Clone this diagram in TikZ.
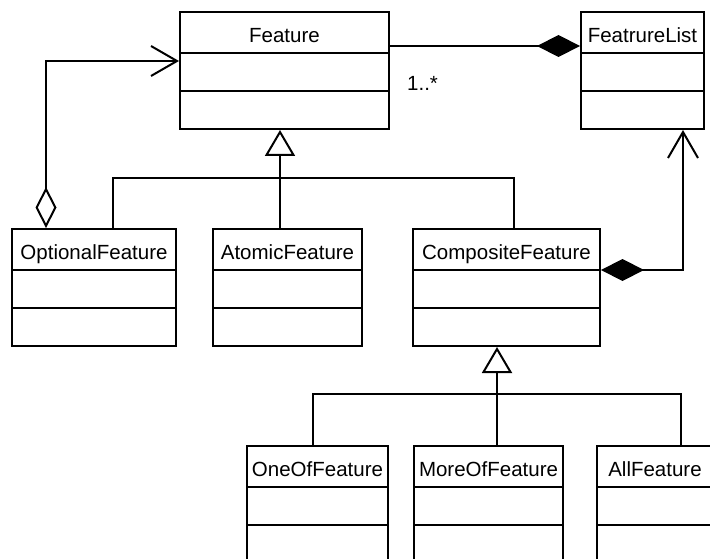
\documentclass[tikz,border=0pt]{standalone}
\usepackage{fontspec}
\setmainfont{Liberation Sans}
\usetikzlibrary{arrows.meta,calc}
\newcommand\UMLbox[5]{%
  \node[cbox, minimum width=#4pt, anchor=north] (#1) at (#2,#3) {};
  \node[cname] (#1-t) at ($(#1.north)+(0,31.5)$) {#5};
  \draw[conn] ($(#1.north west)+(0,42)$) -- ($(#1.north east)+(0,42)$);
  \draw[conn] ($(#1.north west)+(0,80)$) -- ($(#1.north east)+(0,80)$);
}
\begin{document}
\begin{tikzpicture}[x=1pt,y=-1pt,
  every node/.style={font=\fontsize{20.5}{24}\selectfont},
  cbox/.style={draw, line width=2pt, minimum height=117pt, inner sep=0pt},
  cname/.style={anchor=base, inner sep=0pt},
  conn/.style={line width=2pt},
  gentip/.style={-{Triangle[open,length=26pt,width=30pt]}},
  comptip/.tip={Diamond[length=43pt,width=22pt]},
  aggtip/.tip={Diamond[open,length=41pt,width=21pt]},
  navtip/.tip={Straight Barb[length=26pt,width=30pt]}]
\useasboundingbox (0,0) rectangle (710,559);
\clip (0,0) rectangle (710,559);
\fill[white] (0,0) rectangle (710,559);

\UMLbox{feat}{284.5}{11}{209}{Feature}
\UMLbox{flist}{642.5}{11}{123}{FeatrureList}
\UMLbox{opt}{94}{228}{164}{OptionalFeature}
\UMLbox{atom}{287.5}{228}{149}{AtomicFeature}
\UMLbox{comp}{506.5}{228}{187}{CompositeFeature}
\UMLbox{one}{317.5}{445}{141}{OneOfFeature}
\UMLbox{more}{488.5}{445}{149}{MoreOfFeature}
\UMLbox{all}{655}{445}{116}{AllFeature}

\coordinate (g1) at (280,178);
\coordinate (g2) at (497,394);
\coordinate (o1) at (113,0);
\coordinate (c1) at (514,0);
\coordinate (n1) at (313,0);
\coordinate (n3) at (681,0);
\coordinate (aggY) at (46,61);
\coordinate (compY) at (683,270);
\coordinate (assocY) at (0,46);

% generalizations
\draw[conn, gentip] (atom.north -| g1) -- (feat.south -| g1);
\draw[conn] (opt.north -| o1) |- (g1) -| (comp.north -| c1);
\draw[conn, gentip] (more.north -| g2) -- (comp.south -| g2);
\draw[conn] (one.north -| n1) |- (g2) -| (all.north -| n3);

% aggregation OptionalFeature -> Feature
\draw[conn, aggtip-navtip] (opt.north -| aggY) |- (feat.west |- aggY);

% composition Feature -> FeatrureList
\draw[conn, -comptip] (feat.east |- assocY) -- (flist.west |- assocY);
\node[anchor=base west, inner sep=0pt] (mult) at ($(feat.east |- assocY)+(17,44.5)$) {1..*};

% composition CompositeFeature -> FeatrureList
\draw[conn, comptip-navtip] (comp.east |- compY) -| (flist.south -| compY);
\end{tikzpicture}
\end{document}
